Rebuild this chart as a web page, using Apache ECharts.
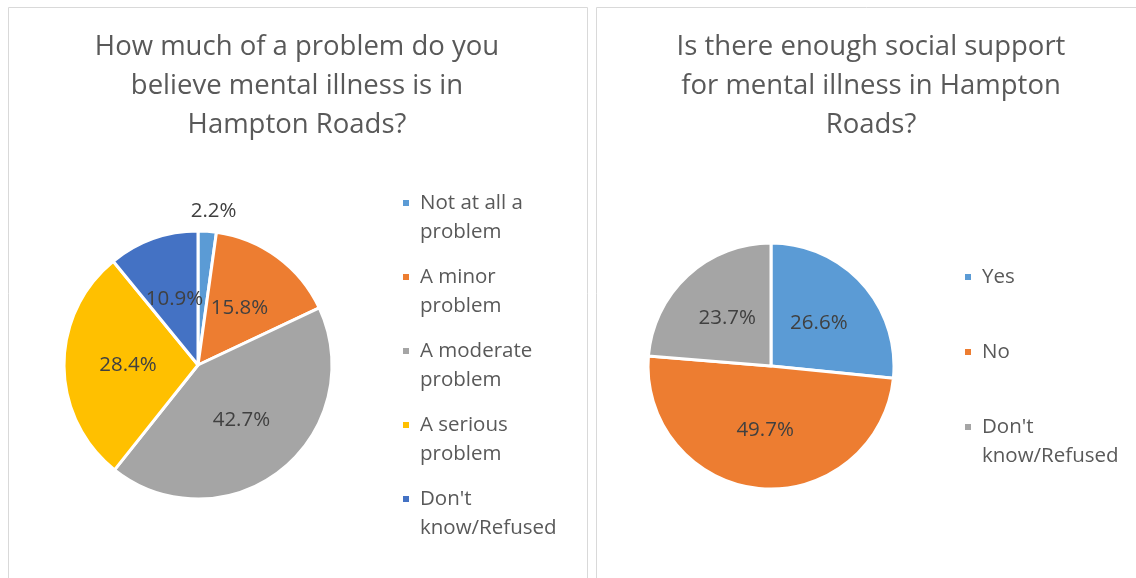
<!DOCTYPE html>
<html>
<head>
<meta charset="utf-8">
<script src="https://cdn.jsdelivr.net/npm/echarts@6/dist/echarts.min.js"></script>
<style>
  html, body { margin: 0; padding: 0; background: #fff; overflow: hidden; }
  #main { width: 1136px; height: 578px; }
</style>
</head>
<body>
<div id="main"></div>
<script>
// left pie: how much of a problem
const leftCategories = ['Not at all a problem', 'A minor problem', 'A moderate problem', 'A serious problem', "Don't know/Refused"];
const leftValues = [2.2, 15.8, 42.7, 28.4, 10.9];
const leftLegendText = ['Not at all a\nproblem', 'A minor\nproblem', 'A moderate\nproblem', 'A serious\nproblem', "Don't\nknow/Refused"];
const leftColors = ['#5B9BD5', '#ED7D31', '#A5A5A5', '#FFC000', '#4472C4'];

// right pie: enough social support
const rightCategories = ['Yes', 'No', "Don't know/Refused"];
const rightValues = [26.6, 49.7, 23.7];
const rightLegendText = ['Yes', 'No', "Don't\nknow/Refused"];
const rightColors = ['#5B9BD5', '#ED7D31', '#A5A5A5'];

const FONT = '"Open Sans", "Noto Sans", sans-serif';
const LH = 29; // legend line height

function legendItems(names, colors) {
  return names.map(function (n, i) {
    return { name: n, itemStyle: { color: colors[i] } };
  });
}

// every legend entry is 3 lines tall with the first real line in the middle,
// so the square marker sits level with it
function legendFormatter(names, texts) {
  return function (n) {
    const t = texts[names.indexOf(n)];
    return '\n' + t + (t.indexOf('\n') < 0 ? '\n' : '');
  };
}

function pieData(names, values, colors) {
  return names.map(function (n, i) {
    return { name: n, value: values[i], itemStyle: { color: colors[i] } };
  });
}

const leftData = pieData(leftCategories, leftValues, leftColors);
// tiny slice gets its label outside, above the pie
leftData[0].label = { position: 'outside' };
leftData[0].labelLine = { show: false, length: 20, length2: 0 };

const legendBase = {
  orient: 'vertical',
  icon: 'rect',
  itemWidth: 8,
  itemHeight: 8,
  padding: 0,
  selectedMode: false,
  textStyle: { fontFamily: FONT, fontSize: 20.5, color: '#595959', lineHeight: LH, padding: [0, 0, 0, 5] }
};

const labelBase = {
  show: true,
  position: 'inside',
  formatter: function (p) { return p.value.toFixed(1) + '%'; },
  fontFamily: FONT,
  fontSize: 20.5,
  color: '#404040'
};

const titleStyle = { fontFamily: FONT, fontSize: 27.5, fontWeight: 'normal', color: '#595959', lineHeight: 39 };

const option = {
  animation: false,
  graphic: [
    { type: 'rect', shape: { x: 8.5, y: 7.5, width: 579, height: 600 }, style: { fill: 'none', stroke: '#D9D9D9', lineWidth: 1 } },
    { type: 'rect', shape: { x: 596.5, y: 7.5, width: 600, height: 600 }, style: { fill: 'none', stroke: '#D9D9D9', lineWidth: 1 } }
  ],
  title: [
    {
      text: 'How much of a problem do you\nbelieve mental illness is in\nHampton Roads?',
      left: 297, top: 28, textAlign: 'center', padding: 0,
      textStyle: titleStyle
    },
    {
      text: 'Is there enough social support\nfor mental illness in Hampton\nRoads?',
      left: 871, top: 28, textAlign: 'center', padding: 0,
      textStyle: titleStyle
    }
  ],
  legend: [
    Object.assign({}, legendBase, {
      left: 401, top: 159.5,
      itemGap: 74 - 3 * LH,
      data: legendItems(leftCategories, leftColors),
      formatter: legendFormatter(leftCategories, leftLegendText)
    }),
    Object.assign({}, legendBase, {
      left: 963, top: 233.5,
      itemGap: 75 - 3 * LH,
      data: legendItems(rightCategories, rightColors),
      formatter: legendFormatter(rightCategories, rightLegendText)
    })
  ],
  series: [
    {
      type: 'pie',
      center: [198, 365],
      radius: 134,
      startAngle: 90,
      clockwise: true,
      itemStyle: { borderColor: '#fff', borderWidth: 3 },
      label: labelBase,
      labelLine: { show: false },
      labelLayout: function (p) {
        return p.dataIndex === 0 ? { align: 'center' } : {};
      },
      emphasis: { disabled: true },
      data: leftData
    },
    {
      type: 'pie',
      center: [771, 366],
      radius: 123,
      startAngle: 90,
      clockwise: true,
      itemStyle: { borderColor: '#fff', borderWidth: 3 },
      label: labelBase,
      labelLine: { show: false },
      emphasis: { disabled: true },
      data: pieData(rightCategories, rightValues, rightColors)
    }
  ]
};

const chart = echarts.init(document.getElementById('main'));
chart.setOption(option);
</script>
</body>
</html>
